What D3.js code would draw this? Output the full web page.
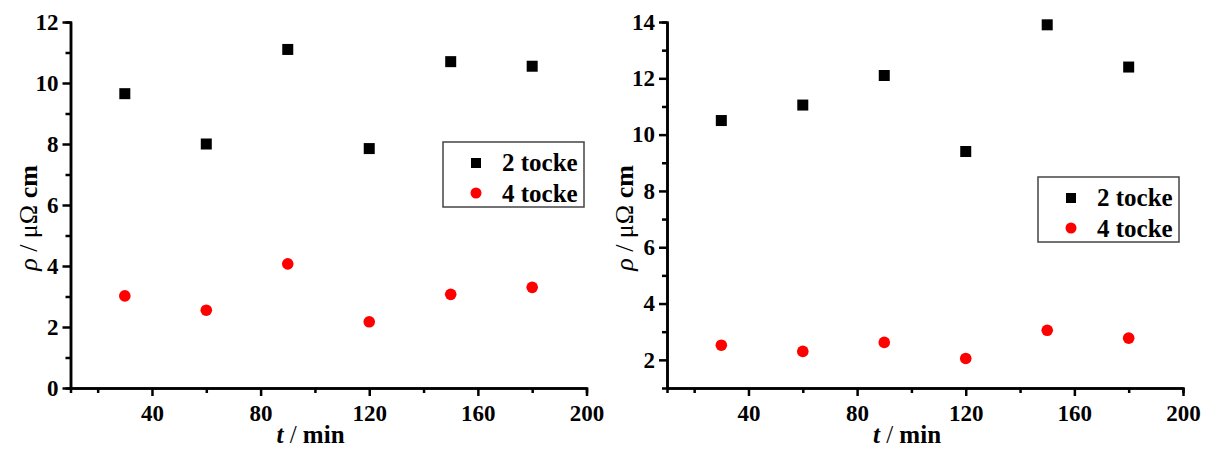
<!DOCTYPE html>
<html><head><meta charset="utf-8">
<script src="https://cdn.jsdelivr.net/npm/d3@7"></script>
<style>body{margin:0;background:#fff}svg{display:block}</style>
</head><body>
<svg id="c" width="1210" height="450"></svg>
<script>
const times = [30, 60, 90, 120, 150, 180];
const leftTwo = [9.65, 8.0, 11.1, 7.85, 10.7, 10.55];
const leftFour = [3.02, 2.55, 4.07, 2.17, 3.07, 3.3];
const rightTwo = [10.5, 11.05, 12.1, 9.4, 13.9, 12.4];
const rightFour = [2.52, 2.3, 2.62, 2.05, 3.05, 2.77];
const xTicks = [40, 80, 120, 160, 200];
const xMinor = [20, 60, 100, 140, 180];
const leftYTicks = [0, 2, 4, 6, 8, 10, 12];
const leftYMinor = [1, 3, 5, 7, 9, 11];
const rightYTicks = [2, 4, 6, 8, 10, 12, 14];
const rightYMinor = [3, 5, 7, 9, 11, 13];
const seriesNames = ["2 tocke", "4 tocke"];

const svg = d3.select("#c");
const FONT = '"Liberation Serif"';

function panel(o) {
  const g = svg.append("g");
  const x = d3.scaleLinear().domain([10, 200]).range([o.x0, o.x0 + 516]);
  const y = d3.scaleLinear().domain(o.yDomain).range([388, 22]);

  const xa = d3.axisBottom(x).tickValues(xMinor).tickSize(5).tickFormat("");
  g.append("g").attr("transform", "translate(0,388)").call(xa);
  const ya = d3.axisLeft(y).tickValues(o.yMinor).tickSize(5).tickFormat("");
  g.append("g").attr("transform", `translate(${o.x0},0)`).call(ya);
  const xA = d3.axisBottom(x).tickValues(xTicks).tickSize(8).tickSizeOuter(0).tickPadding(5).tickFormat(d3.format("d"));
  const gx = g.append("g").attr("transform", "translate(0,388)").call(xA);
  const yA = d3.axisLeft(y).tickValues(o.yTicks).tickSize(8).tickSizeOuter(0).tickPadding(3).tickFormat(d3.format("d"));
  const gy = g.append("g").attr("transform", `translate(${o.x0},0)`).call(yA);

  g.selectAll(".domain").attr("stroke", "#000").attr("stroke-width", 2.5);
  g.selectAll(".tick line").attr("stroke", "#000").attr("stroke-width", 2.5);
  g.selectAll(".tick text").attr("fill", "#000")
    .style("font-family", FONT).style("font-weight", "bold").style("font-size", "23px");
  gx.selectAll(".tick text").attr("dy", "0.85em");
  gy.selectAll(".tick text").attr("dx", "-1");

  g.selectAll("rect.pt").data(times.map((t, i) => [t, o.two[i]])).join("rect")
    .attr("class", "pt").attr("x", d => x(d[0]) - 5.5).attr("y", d => y(d[1]) - 5.5)
    .attr("width", 11).attr("height", 11).attr("fill", "#000");
  g.selectAll("circle.pt").data(times.map((t, i) => [t, o.four[i]])).join("circle")
    .attr("class", "pt").attr("cx", d => x(d[0])).attr("cy", d => y(d[1]))
    .attr("r", 5.8).attr("fill", "#ff0000");

  const xl = g.append("text").attr("x", o.x0 + 240).attr("y", 443)
    .attr("text-anchor", "middle").attr("fill", "#000")
    .style("font-family", FONT).style("font-size", "25px").style("font-weight", "bold");
  xl.append("tspan").style("font-style", "italic").text("t");
  xl.append("tspan").style("font-weight", "normal").text(" / ");
  xl.append("tspan").text("min");

  const yl = g.append("text").attr("transform", `translate(${o.x0 - 34},218) rotate(-90)`)
    .attr("text-anchor", "middle").attr("fill", "#000")
    .style("font-family", FONT).style("font-size", "26px");
  yl.append("tspan").style("font-style", "italic").text("ρ");
  yl.append("tspan").text(" / μΩ ");
  yl.append("tspan").style("font-weight", "bold").text("cm");

  const L = o.legend;
  g.append("rect").attr("x", L.x).attr("y", L.y).attr("width", 141).attr("height", 65)
    .attr("fill", "#fff").attr("stroke", "#444").attr("stroke-width", 1.5);
  g.append("rect").attr("x", L.x + 28).attr("y", L.y + 16).attr("width", 10).attr("height", 10).attr("fill", "#000");
  g.append("circle").attr("cx", L.x + 33).attr("cy", L.y + 51).attr("r", 5.5).attr("fill", "#ff0000");
  seriesNames.forEach((n, i) => {
    g.append("text").attr("x", L.x + 59).attr("y", L.y + 29 + i * 31)
      .attr("fill", "#000")
      .style("font-family", FONT).style("font-weight", "bold").style("font-size", "25px")
      .text(n);
  });
}

panel({x0: 70.5, yDomain: [0, 12], yTicks: leftYTicks, yMinor: leftYMinor,
  two: leftTwo, four: leftFour, legend: {x: 443, y: 142}});
panel({x0: 667, yDomain: [1, 14], yTicks: rightYTicks, yMinor: rightYMinor,
  two: rightTwo, four: rightFour, legend: {x: 1038, y: 177}});
</script>
</body></html>
